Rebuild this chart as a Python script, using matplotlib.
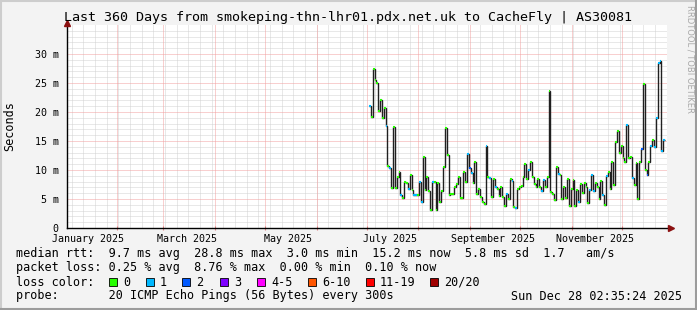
import numpy as np
import pandas as pd
import matplotlib
matplotlib.use("Agg")
import matplotlib.pyplot as plt
import matplotlib.dates as mdates
from matplotlib.patches import Rectangle
from matplotlib.lines import Line2D

W, H = 697, 310

# time window of the graph and of the measured data
graph_start = pd.Timestamp("2025-01-02 02:35:24")
graph_end = pd.Timestamp("2025-12-28 02:35:24")
data_start = pd.Timestamp("2025-07-02 07:00")
data_end = pd.Timestamp("2025-12-27 00:00")

# median rtt in ms
median_ms = [
    21.0, 19.1, 27.4, 25.5, 25.0, 20.1, 22.1, 19.0, 20.7, 17.6,
    10.7, 10.3, 6.9, 17.5, 6.9, 8.8, 9.6, 5.7, 5.2, 8.0,
    7.8, 6.8, 9.1, 6.6, 5.7, 5.7, 5.7, 8.0, 4.4, 12.3,
    6.6, 8.8, 6.3, 3.1, 7.9, 7.9, 3.1,
    7.7, 4.5, 6.3, 10.6, 17.2, 12.6, 5.7, 5.9, 5.9, 7.1,
    7.6, 8.8, 5.2, 5.2, 9.7, 8.0, 12.8, 10.3, 9.4, 7.8,
    11.4, 5.9, 6.8, 5.4, 4.5, 4.1, 14.1, 8.8, 8.7, 5.3,
    8.4, 7.1, 6.8, 5.5, 7.1, 5.4, 3.8, 5.9, 5.0,
    8.4, 8.1, 3.7, 3.5, 6.8, 7.1, 7.3, 8.8, 11.0, 8.5,
    10.0, 11.3, 8.8, 7.6, 7.1, 8.4, 7.1, 6.3, 8.3, 7.1,
    8.8, 23.7, 6.2, 5.9, 4.8, 10.5, 9.3, 9.1, 5.0, 7.0,
    5.2, 8.4, 3.8, 6.8, 8.3, 3.8, 6.6, 4.4, 7.6, 6.0,
    7.7, 7.0, 4.3,
    6.6, 9.1, 6.3, 7.7, 7.0, 5.0, 8.1, 5.7, 4.0, 9.0,
    9.7, 6.7, 11.3, 7.4, 14.9, 16.7, 12.9, 14.1, 12.1, 11.4,
    17.8, 12.1, 12.3, 8.6, 7.4, 11.2, 5.0, 11.4, 13.7, 24.9,
    10.0, 9.2, 11.4, 14.2, 15.1, 14.0, 19.0, 28.4, 28.8, 13.2,
    15.2,
]

# loss level per point (index into loss_labels)
loss_level = [
    1, 0, 0, 0, 0, 0, 0, 0, 0, 1, 0, 1, 0, 0, 0, 0, 0, 1, 0, 0,
    0, 1, 0, 0, 1, 1, 0, 1, 1, 0, 0, 0, 0, 0, 1, 0, 0,
    0, 0, 0, 0, 0, 0, 0, 0, 0, 0, 0, 0, 0, 0, 0, 0, 1, 2, 1, 0,
    0, 0, 0, 0, 0, 0, 1, 0, 1, 0, 0, 1, 0, 0, 0, 0, 0, 1, 0,
    0, 1, 0, 1, 0, 0, 0, 0, 0, 0, 1, 0, 0, 0, 0, 0, 0, 1, 1, 0,
    0, 0, 0, 0, 0, 0, 1, 0, 0, 0, 0, 0, 0, 0, 0, 0, 0, 1, 0, 0,
    0, 0, 0,
    1, 1, 1, 0, 0, 0, 0, 1, 0, 1, 0, 0, 0, 0, 0, 0, 0, 0, 0, 0,
    1, 0, 0, 1, 0, 0, 0, 0, 2, 0, 0, 2, 0, 1, 0, 1, 1, 1, 1, 1,
    1,
]

loss_labels = ["0", "1", "2", "3", "4-5", "6-10", "11-19", "20/20"]
loss_colors = ["#26ff00", "#00b8ff", "#0059ff", "#7e00ff",
               "#ff00ff", "#ff5500", "#ff0000", "#a00000"]

month_labels = ["January 2025", "March 2025", "May 2025",
                "July 2025", "September 2025", "November 2025"]
month_label_dates = pd.to_datetime(["2025-01-15", "2025-03-15", "2025-05-15",
                                    "2025-07-15", "2025-09-15", "2025-11-15"])

legend_lines = [
    "median rtt:  9.7 ms avg  28.8 ms max  3.0 ms min  15.2 ms now  5.8 ms sd  1.7   am/s",
    "packet loss: 0.25 % avg  8.76 % max  0.00 % min  0.10 % now",
    "loss color:",
    "probe:       20 ICMP Echo Pings (56 Bytes) every 300s",
]
stamp = "Sun Dec 28 02:35:24 2025"
title = "Last 360 Days from smokeping-thn-lhr01.pdx.net.uk to CacheFly | AS30081"

MONO = "DejaVu Sans Mono"
minor_c = "#d2d2d2"
major_c = "#f2a0a0"
arrow_c = "#8b1010"


def fx(x):
    return x / W


def fy(y):
    return 1 - y / H


fig = plt.figure(figsize=(W / 100, H / 100), dpi=100, facecolor="#f3f3f3")
ax = fig.add_axes([fx(67), fy(228), 600 / W, 203 / H])
ax.set_facecolor("white")

x0 = mdates.date2num(graph_start)
x1 = mdates.date2num(graph_end)
ax.set_xlim(x0, x1)
ax.set_ylim(0, 35)

# grid, dotted like rrdtool
gkw = dict(lw=0.72, ls=(0, (1, 1)))
for d in pd.date_range("2025-01-05", graph_end, freq="7D"):
    ax.axvline(mdates.date2num(d), color=minor_c, zorder=1, **gkw)
for v in range(1, 35):
    if v % 5:
        ax.axhline(v, color=minor_c, zorder=1, **gkw)
month_starts = pd.date_range("2025-02-01", graph_end, freq="MS")
for d in month_starts:
    ax.axvline(mdates.date2num(d), color=major_c, zorder=1.5, **gkw)
for v in range(5, 35, 5):
    ax.axhline(v, color=major_c, zorder=1.5, **gkw)

# data
edges = mdates.date2num(pd.date_range(data_start, data_end, periods=len(median_ms) + 1))
ax.stairs(median_ms, edges, baseline=None, color="#202020", lw=1.0, zorder=3)
ax.hlines(median_ms, edges[:-1], edges[1:],
          colors=[loss_colors[l] for l in loss_level], lw=1.5, zorder=4)

# axes
for s in ["top", "right"]:
    ax.spines[s].set_visible(False)
for s in ["left", "bottom"]:
    ax.spines[s].set_color("#000000")
    ax.spines[s].set_linewidth(1.0)
    ax.spines[s].set_zorder(5)
ax.plot([1.006], [0], marker=">", ms=4.5, color=arrow_c, transform=ax.transAxes, clip_on=False, zorder=6)
ax.plot([0], [1.012], marker="^", ms=4.5, color=arrow_c, transform=ax.transAxes, clip_on=False, zorder=6)

ax.set_yticks(range(0, 35, 5))
ax.set_yticklabels(["0"] + [f"{v} m" for v in range(5, 35, 5)])
ax.tick_params(axis="y", length=0, pad=6, labelsize=7.2)
ax.set_xticks(mdates.date2num(month_label_dates))
ax.set_xticklabels(month_labels)
ax.tick_params(axis="x", length=0, pad=4, labelsize=7.2)
ax.set_xticks(mdates.date2num(month_starts), minor=True)
ax.tick_params(axis="x", which="minor", length=3, direction="inout", color="#e08080", width=0.8)
for lab in ax.get_xticklabels() + ax.get_yticklabels():
    lab.set_family(MONO)

# title and labels
fig.text(fx(348), fy(18), title, family=MONO, size=9.6, ha="center", va="center")
fig.text(fx(10), fy(126), "Seconds", family=MONO, size=8.5, rotation=90, ha="center", va="center")
fig.text(fx(690), fy(5), "RRDTOOL / TOBI OETIKER", family="DejaVu Sans", size=6,
         color="#a8a8a8", rotation=-90, ha="center", va="top")

# legend
for i, line in enumerate(legend_lines):
    fig.text(fx(15.6), fy(254 + 14 * i), line, family=MONO, size=8.5, ha="left", va="center")
fig.text(fx(682), fy(296), stamp, family=MONO, size=8.5, ha="right", va="center")

box_x = [109, 146, 182, 220, 257, 308, 366, 430]
for bx, lab, col in zip(box_x, loss_labels, loss_colors):
    fig.add_artist(Rectangle((fx(bx), fy(286)), 8 / W, 8 / H, transform=fig.transFigure,
                             facecolor=col, edgecolor="#000000", lw=0.6))
    fig.text(fx(bx + 14), fy(282), lab, family=MONO, size=8.5, ha="left", va="center")

# frame
fig.add_artist(Line2D([0, 1], [fy(1), fy(1)], color="#cdcdcd", lw=1.5, transform=fig.transFigure))
fig.add_artist(Line2D([fx(1), fx(1)], [0, 1], color="#cdcdcd", lw=1.5, transform=fig.transFigure))
fig.add_artist(Line2D([0, 1], [fy(309), fy(309)], color="#9c9c9c", lw=1.5, transform=fig.transFigure))
fig.add_artist(Line2D([fx(696), fx(696)], [0, 1], color="#9c9c9c", lw=1.5, transform=fig.transFigure))

fig.savefig("out.png", dpi=100, facecolor=fig.get_facecolor())
